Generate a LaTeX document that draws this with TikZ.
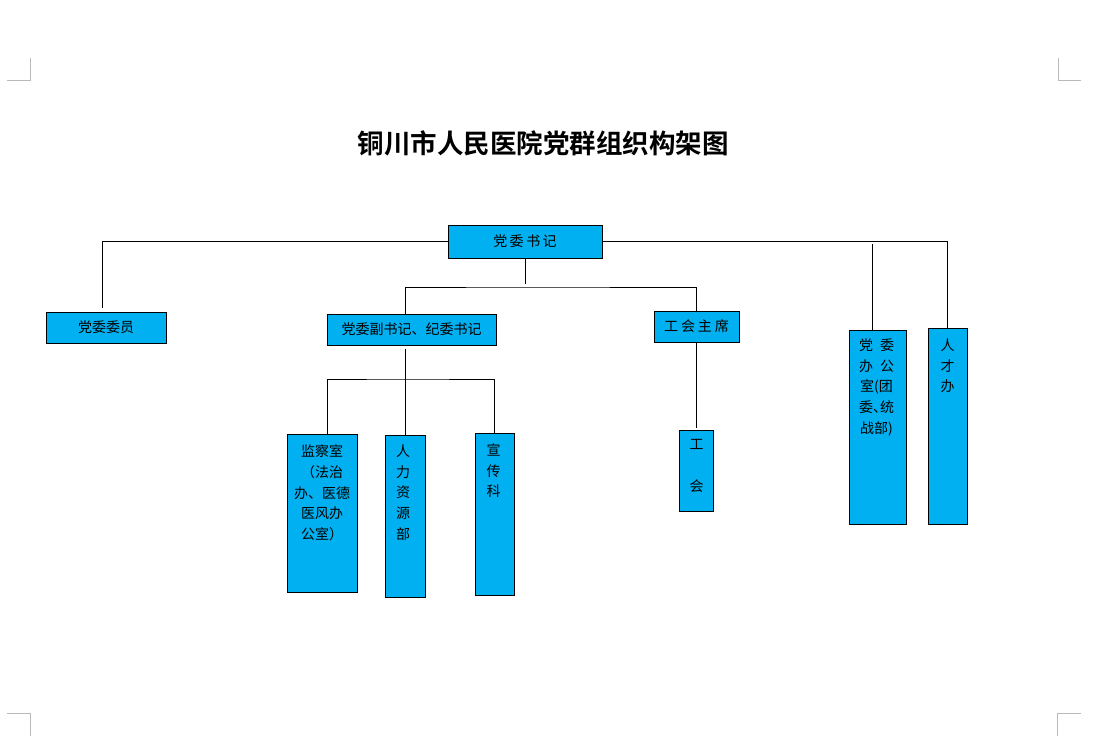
\documentclass[tikz,border=0pt]{standalone}
\usepackage{fontspec}
\setmainfont{Noto Sans CJK SC}[BoldFont={Noto Sans CJK SC Bold}]
\usepackage{tikz}
\definecolor{boxblue}{RGB}{0,176,240}

\begin{document}
\begin{tikzpicture}[x=1pt,y=-1pt]
    \tikzstyle{every node}+=[inner sep=0pt]
    \tikzstyle{box}=[draw=black, fill=boxblue, line width=1pt, font=\fontsize{14}{20.7}\selectfont]
    \tikzstyle{txt}=[anchor=north, align=center, font=\fontsize{14}{20.7}\selectfont]
    \tikzstyle{link}=[draw=black, line width=0.9pt]
    \tikzstyle{crop}=[draw=gray!55, line width=1pt]
    \useasboundingbox (0,0) rectangle (1093,749);
    % crop marks
    \draw [crop] (7,81) -- (30,81) -- (30,58);
    \draw [crop] (1081,81) -- (1058,81) -- (1058,58);
    \draw [crop] (7,713) -- (30,713) -- (30,736);
    \draw [crop] (1081,713) -- (1057,713) -- (1057,736);
    \draw (543,143) node (title) {\fontsize{26.5}{26.5}\selectfont\bfseries 铜川市人民医院党群组织构架图};
    % top row
    \node [box, minimum width=154pt, minimum height=33pt] (sj) at (525,241.5) {党\hspace{2.5pt}委\hspace{2.5pt}书\hspace{2.5pt}记};
    \node [box, minimum width=120pt, minimum height=31pt] (wy) at (106,327.5) {党委委员};
    \node [box, minimum width=169pt, minimum height=31pt] (fsj) at (411.5,329.5) {党委副书记、纪委书记};
    \node [box, minimum width=85pt, minimum height=31pt] (ghzx) at (696.5,326.5) {工\hspace{3pt}会\hspace{3pt}主\hspace{3pt}席};
    \node [box, minimum width=57pt, minimum height=194pt] (dwb) at (877.5,427) {};
    \node [box, minimum width=39pt, minimum height=196pt] (rcb) at (947.5,426) {};
    % lower row
    \node [box, minimum width=70pt, minimum height=158pt] (jcs) at (322,513) {};
    \node [box, minimum width=40pt, minimum height=162pt] (rlzy) at (405,516) {};
    \node [box, minimum width=39pt, minimum height=162pt] (xck) at (494.5,514) {};
    \node [box, minimum width=34pt, minimum height=81pt] (gh) at (696.5,470.5) {};
    % texts of the tall boxes
    \node [txt] (dwbt) at ([xshift=-1pt,yshift=-9pt]dwb.north) {党\hspace{7pt}委\\办\hspace{7pt}公\\室(团\\委\makebox[7pt][l]{、}统\\战部)};
    \node [txt] (rcbt) at ([yshift=-11pt]rcb.north) {人\\才\\办};
    \node [txt] (jcst) at ([yshift=-11pt]jcs.north) {监察室\\（法治\\办、医德\\医风办\\公室）};
    \node [txt] (rlzyt) at ([xshift=-2pt,yshift=-10pt]rlzy.north) {人\\力\\资\\源\\部};
    \node [txt] (xckt) at ([xshift=-1pt,yshift=-11pt]xck.north) {宣\\传\\科};
    \node [txt] (ght) at ([yshift=-10pt]gh.north) {工\\[20.5pt]会};
    % connectors
    \coordinate (bar1) at (525,287);
    \coordinate (bar2) at (405,379);
    \draw [link] (sj.west) -| ([shift={(-4pt,4pt)}]wy.north);
    \draw [link] (sj.east) -| (rcb.north);
    \draw [link] ([xshift=-5.5pt]dwb.north) -- ([xshift=-5.5pt,yshift=-2pt]dwb.north |- sj.east);
    \draw [link] (sj.south) -- ([yshift=3pt]bar1);
    \draw [link] ([xshift=-6.5pt]fsj.north) |- (bar1) -| (ghzx.north);
    \draw [link] ([xshift=-6.5pt,yshift=-3pt]fsj.south) -- (rlzy.north);
    \draw [link] ([xshift=5pt]jcs.north) |- (bar2) -| (xck.north);
    \draw [link] (ghzx.south) -- ([yshift=2pt]gh.north);
\end{tikzpicture}
\end{document}
